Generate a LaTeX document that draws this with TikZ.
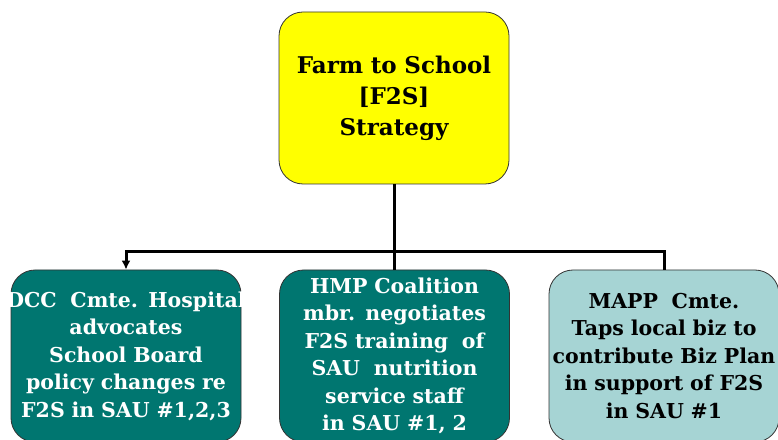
\documentclass[tikz,border=0pt]{standalone}
\usepackage{fontspec}
\setmainfont{DejaVu Serif}
\usepackage{tikz}
\usetikzlibrary{arrows.meta, positioning}
\definecolor{stratyellow}{RGB}{255,255,0}
\definecolor{darkteal}{RGB}{0,118,112}
\definecolor{paleteal}{RGB}{166,212,212}
\tikzset{
	box/.style={draw=black!80, line width=0.8pt, rounded corners=24pt, minimum width=230pt,
		minimum height=172pt, text width=230pt, align=center, inner sep=0pt,
		font=\bfseries\fontsize{20.5}{27.5}\selectfont},
	link/.style={line width=3pt},
}

\begin{document}
\begin{tikzpicture}[x=1pt,y=1pt]
	\useasboundingbox (0,0) rectangle (778,439);
	\clip (0,0) rectangle (778,439);
	% Strategy box
	\node[box, fill=stratyellow, font=\bfseries\fontsize{23}{31}\selectfont] (f2s) at (394,341) {Farm to School\\ {[F2S]}\\ Strategy};
	% the three committees
	\node[box, fill=darkteal, text=white] (dcc) at (126,83) {\makebox[\linewidth]{DCC\ \ Cmte. Hospital}\\ advocates\\ School Board\\ policy changes re\\ F2S in SAU \#1,2,3};
	\node[box, fill=darkteal, text=white] (hmp) at (394.5,83) {HMP Coalition\\ mbr. negotiates\\ F2S training\ \ of\\ SAU\ \ nutrition\\ service staff\\ in SAU \#1, 2};
	\node[box, fill=paleteal] (mapp) at (664,83) {MAPP\ \ Cmte.\\ Taps local biz to\\ contribute Biz Plan\\ in support of F2S\\ in SAU \#1};
	\coordinate (bus) at (394,187);
	% connectors
	\draw[link] (f2s.south) -- (f2s.south |- bus);
	\draw[link, -{Latex[length=9pt,width=9pt]}] (f2s.south |- bus) -| (dcc.north);
	\draw[link] (f2s.south |- bus) -| (mapp.north);
	\draw[link] (hmp.north) -- (hmp.north |- bus);
\end{tikzpicture}
\end{document}
